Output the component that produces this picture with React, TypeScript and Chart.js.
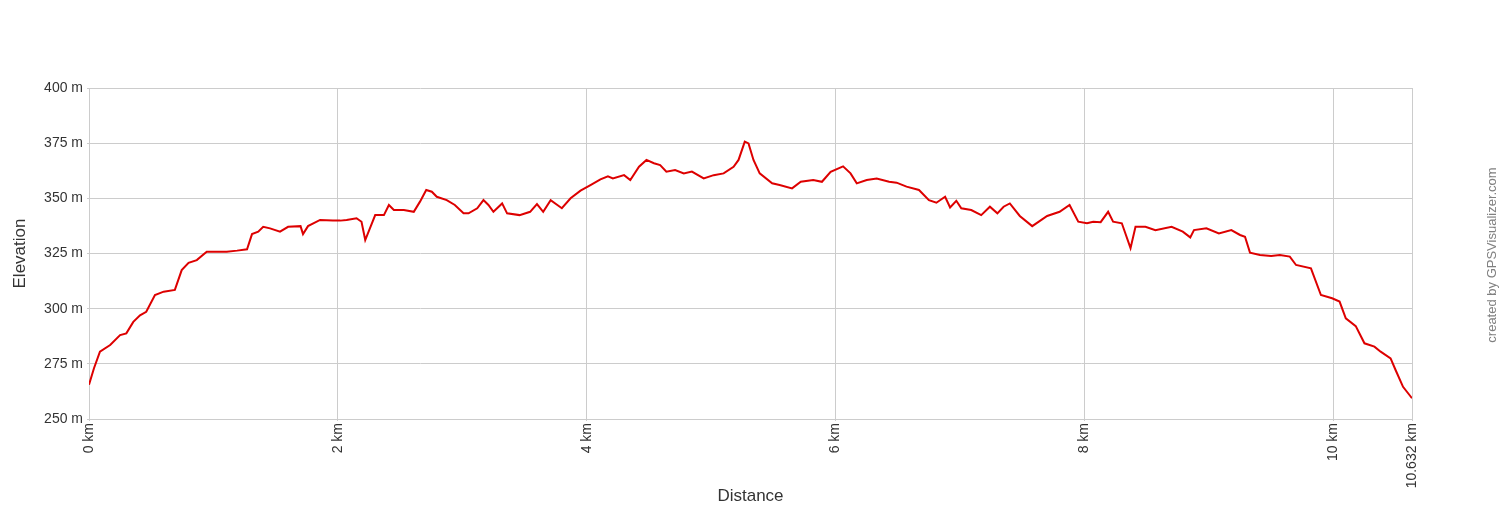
import React, { useEffect, useRef } from "react";
import { Chart, registerables } from "chart.js";

Chart.register(...registerables);

const distanceKm = [
  0.0, 0.04, 0.088, 0.17, 0.25, 0.3, 0.356, 0.41, 0.46, 0.53, 0.6, 0.69, 0.745, 0.8, 0.866, 0.946,
  1.03, 1.107, 1.19, 1.27, 1.31, 1.36, 1.4, 1.455, 1.535, 1.6, 1.7, 1.72, 1.76, 1.857, 1.96,
  2.02, 2.07, 2.15, 2.19, 2.22, 2.3, 2.37, 2.41, 2.45, 2.53, 2.61, 2.66, 2.71, 2.755, 2.795, 2.875, 2.94,
  3.01, 3.05, 3.12, 3.17, 3.21, 3.25, 3.32, 3.36, 3.46, 3.545, 3.6, 3.65, 3.71, 3.8, 3.87, 3.95,
  4.03, 4.11, 4.17, 4.21, 4.3, 4.35, 4.42, 4.48, 4.54, 4.59, 4.64, 4.71, 4.78, 4.845, 4.94,
  5.02, 5.1, 5.18, 5.22, 5.27, 5.3, 5.34, 5.39, 5.49, 5.55, 5.65, 5.72, 5.82, 5.89, 5.96,
  6.06, 6.12, 6.17, 6.25, 6.33, 6.43, 6.49, 6.57, 6.67, 6.75, 6.81, 6.88, 6.92, 6.97,
  7.01, 7.09, 7.17, 7.24, 7.3, 7.35, 7.4, 7.48, 7.58, 7.7, 7.8, 7.88, 7.95,
  8.02, 8.07, 8.13, 8.19, 8.23, 8.3, 8.37, 8.41, 8.49, 8.57, 8.7, 8.79, 8.85, 8.88, 8.98,
  9.08, 9.18, 9.25, 9.29, 9.33, 9.41, 9.5, 9.57, 9.65, 9.7, 9.82, 9.9, 9.99,
  10.05, 10.1, 10.18, 10.25, 10.33, 10.38, 10.46, 10.5, 10.56, 10.632,
];

const elevationM = [
  265.5, 273, 280.5, 283.5, 288, 288.8, 294, 297, 298.6, 306.2, 307.7, 308.5, 317.5, 320.8, 322, 325.8,
  325.8, 325.8, 326.3, 326.9, 333.8, 334.9, 337.1, 336.4, 334.9, 337.1, 337.4, 333.8, 337.4, 340.2, 339.9,
  339.9, 340.2, 341, 339.4, 331.1, 342.4, 342.4, 347, 344.7, 344.7, 343.9, 348.5, 353.8, 353, 350.7, 349.2, 347,
  343.2, 343.2, 345.5, 349.2, 347, 343.9, 347.7, 343.2, 342.4, 343.9, 347.4, 343.9, 349.2, 345.5, 350, 353.5,
  356, 358.6, 360, 359, 360.5, 358.3, 364.3, 367.4, 365.9, 365.1, 362.1, 362.8, 361.3, 362.1, 359,
  360.5, 361.3, 364.3, 367.4, 375.7, 374.9, 367.4, 361.3, 356.8, 356, 354.5, 357.5, 358.3, 357.5, 362,
  364.5, 361.3, 356.8, 358.3, 359, 357.5, 357.1, 355.3, 353.8, 349.2, 348, 350.7, 345.9, 348.9,
  345.5, 344.7, 342.4, 346.2, 343.2, 346.2, 347.7, 342, 337.4, 342, 343.9, 347, 339.4,
  338.7, 339.4, 339.2, 343.9, 339.4, 338.7, 327.4, 337.1, 337.1, 335.6, 337.1, 334.9, 332.3, 335.6, 336.4,
  334.1, 335.6, 333.4, 332.6, 325.4, 324.3, 323.9, 324.3, 323.6, 319.8, 318.3, 306.2, 304.7,
  303.2, 295.6, 292.1, 284.3, 282.8, 280.5, 277.5, 272.2, 264.6, 259.4,
];

const xTickValues = [0, 2, 4, 6, 8, 10, 10.632];
const yMin = 250;
const yMax = 400;
const yStep = 25;
const xTitle = "Distance";
const yTitle = "Elevation";
const creditText = "created by GPSVisualizer.com";

const FONT = "'Liberation Sans', Arial, sans-serif";
const TEXT = "#333333";
const GRID = "#cccccc";

const creditPlugin = {
  id: "credit",
  afterDraw(chart: any) {
    const ctx = chart.ctx;
    ctx.save();
    ctx.translate(1492, 255);
    ctx.rotate(-Math.PI / 2);
    ctx.font = `13px ${FONT}`;
    ctx.fillStyle = "#808080";
    ctx.textAlign = "center";
    ctx.textBaseline = "middle";
    ctx.fillText(creditText, 0, 0);
    ctx.restore();
  },
};

export default function App() {
  const ref = useRef<HTMLCanvasElement>(null);

  useEffect(() => {
    if (!ref.current) return;
    const points = distanceKm.map((d, i) => ({ x: d, y: elevationM[i] }));
    const chart = new Chart(ref.current, {
      type: "line",
      data: {
        datasets: [
          {
            data: points,
            borderColor: "#dd0000",
            borderWidth: 2,
            pointRadius: 0,
            fill: false,
            tension: 0,
          },
        ],
      },
      options: {
        responsive: false,
        animation: false,
        layout: { padding: { top: 88, right: 88, bottom: 0, left: 0 } },
        plugins: { legend: { display: false }, tooltip: { enabled: false } },
        scales: {
          x: {
            type: "linear",
            min: 0,
            max: 10.632,
            afterBuildTicks: (scale: any) => {
              scale.ticks = xTickValues.map((v) => ({ value: v }));
            },
            afterFit: (scale: any) => {
              scale.height = 88;
            },
            ticks: {
              autoSkip: false,
              minRotation: 90,
              maxRotation: 90,
              padding: 2,
              color: TEXT,
              font: { family: FONT, size: 14 },
              callback: (v: any) => `${v} km`,
            },
            grid: { color: GRID, tickLength: 2 },
            border: { color: GRID },
            title: {
              display: true,
              text: xTitle,
              color: TEXT,
              font: { family: FONT, size: 17 },
              padding: { top: 0, bottom: 0 },
            },
          },
          y: {
            min: yMin,
            max: yMax,
            afterFit: (scale: any) => {
              scale.width = 89;
            },
            ticks: {
              stepSize: yStep,
              padding: 4,
              color: TEXT,
              font: { family: FONT, size: 14 },
              callback: (v: any) => `${v} m`,
            },
            grid: { color: GRID, tickLength: 2 },
            border: { color: GRID },
            title: {
              display: true,
              text: yTitle,
              color: TEXT,
              font: { family: FONT, size: 17 },
              padding: { top: 10, bottom: 0 },
            },
          },
        },
      },
      plugins: [creditPlugin],
    } as any);
    return () => chart.destroy();
  }, []);

  return (
    <div style={{ position: "fixed", left: 0, top: 0, width: 1500, height: 507, background: "#fff" }}>
      <canvas ref={ref} width={1500} height={507} style={{ width: 1500, height: 507, display: "block" }} />
    </div>
  );
}
